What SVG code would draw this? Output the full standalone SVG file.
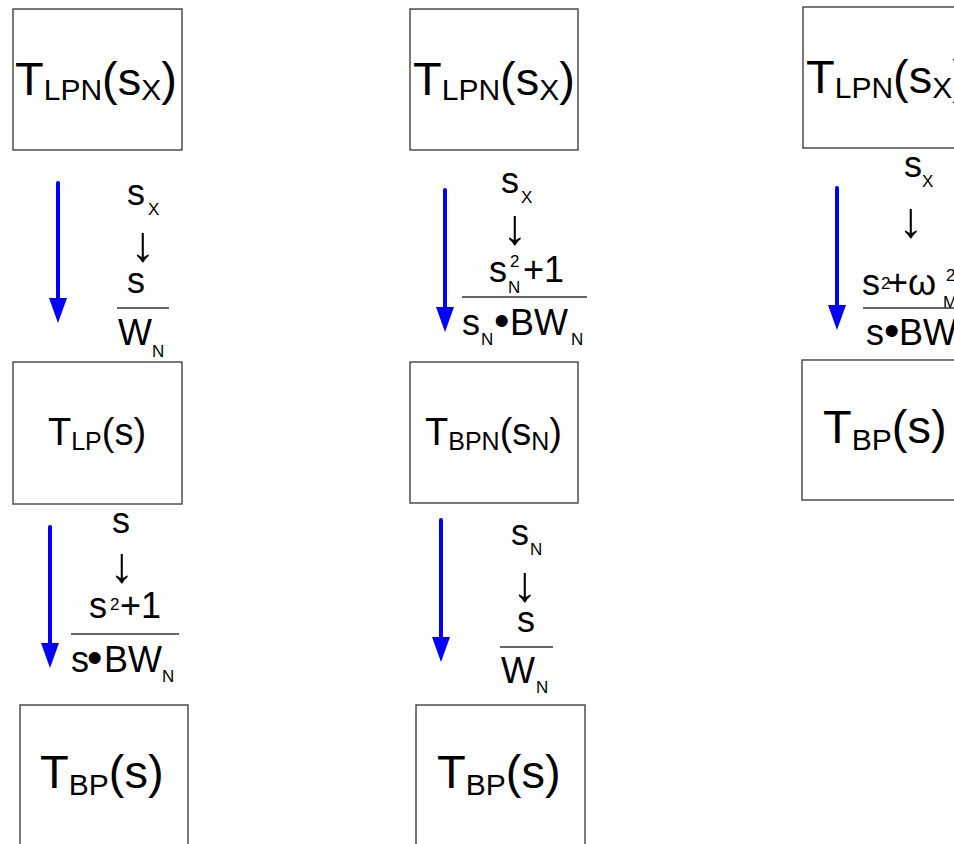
<svg xmlns="http://www.w3.org/2000/svg" width="954" height="844" viewBox="0 0 954 844">
<defs>
<style>
text{font-family:"Liberation Sans",Arial,sans-serif;fill:#000}
.box{fill:#fff;stroke:#404040;stroke-width:1.4}
.big{font-size:47px}
.bs{font-size:30px}
.mid{font-size:38px}
.ms{font-size:25px}
.lb{font-size:36px}
.ls{font-size:17px}
.bul{font-size:44px}
.arr{font-size:50px;text-anchor:middle}
.frac{stroke:#333;stroke-width:1.3}
.conn{stroke:#0000ff;stroke-width:4;stroke-linecap:round;fill:none;marker-end:url(#ah)}
</style>
<marker id="ah" markerUnits="userSpaceOnUse" viewBox="0 -9 25 18" markerWidth="25" markerHeight="18" refX="2" refY="0" orient="auto">
<path d="M0,-9 L25,0 L0,9 z" fill="#0000ff"/>
</marker>
</defs>
<rect width="954" height="844" fill="#fff"/>

<g id="col1-top"><rect class="box" x="13" y="9" width="169" height="141"/>
<text class="big" x="15" y="95">T<tspan class="bs" dy="5">LPN</tspan><tspan dy="-5">(s</tspan><tspan class="bs" dy="5">X</tspan><tspan dy="-5">)</tspan></text></g>
<g id="col1-mid"><rect class="box" x="13" y="362" width="169" height="142"/>
<text class="mid" x="48" y="445">T<tspan class="ms" dy="5">LP</tspan><tspan dy="-5">(s)</tspan></text></g>
<g id="col1-bot"><rect class="box" x="20" y="705" width="168" height="150"/>
<text class="big" x="40" y="788">T<tspan class="bs" dy="7">BP</tspan><tspan dy="-7">(s)</tspan></text></g>

<g id="col2-top"><rect class="box" x="410" y="9" width="168" height="141"/>
<text class="big" x="413" y="95">T<tspan class="bs" dy="5">LPN</tspan><tspan dy="-5">(s</tspan><tspan class="bs" dy="5">X</tspan><tspan dy="-5">)</tspan></text></g>
<g id="col2-mid"><rect class="box" x="410" y="362" width="168" height="141"/>
<text class="mid" x="425" y="445">T<tspan class="ms" dy="5">BPN</tspan><tspan dy="-5">(s</tspan><tspan class="ms" dy="5">N</tspan><tspan dy="-5">)</tspan></text></g>
<g id="col2-bot"><rect class="box" x="416" y="705" width="169" height="150"/>
<text class="big" x="437" y="788">T<tspan class="bs" dy="7">BP</tspan><tspan dy="-7">(s)</tspan></text></g>

<g id="col3-top"><rect class="box" x="803" y="7" width="200" height="141"/>
<text class="big" x="806" y="93">T<tspan class="bs" dy="5">LPN</tspan><tspan dy="-5">(s</tspan><tspan class="bs" dy="5">X</tspan><tspan dy="-5">)</tspan></text></g>
<g id="col3-mid"><rect class="box" x="802" y="360" width="200" height="140"/>
<text class="big" x="823" y="443">T<tspan class="bs" dy="7">BP</tspan><tspan dy="-7">(s)</tspan></text></g>

<g id="connectors">
<line class="conn" x1="58" y1="183" x2="58" y2="300"/>
<line class="conn" x1="50" y1="527" x2="50" y2="645"/>
<line class="conn" x1="445" y1="190" x2="445" y2="309"/>
<line class="conn" x1="441" y1="520" x2="441" y2="639"/>
<line class="conn" x1="837" y1="188" x2="837" y2="307"/>
</g>

<g id="label-col1-a">
<text><tspan class="lb" x="127" y="205">s</tspan><tspan class="ls" x="148" y="215">X</tspan></text>
<text class="arr" x="143" y="261">↓</text>
<text class="lb" x="127" y="293">s</text>
<line class="frac" x1="117" y1="308" x2="169" y2="308"/>
<text><tspan class="lb" x="118" y="345">W</tspan><tspan class="ls" x="152" y="357">N</tspan></text>
</g>
<g id="label-col1-b">
<text class="lb" x="112" y="533">s</text>
<text class="arr" x="122" y="582">↓</text>
<text><tspan class="lb" x="89" y="618">s</tspan><tspan class="ls" x="110" y="610">2</tspan><tspan class="lb" x="120" y="618">+1</tspan></text>
<line class="frac" x1="71" y1="634" x2="179" y2="634"/>
<text><tspan class="lb" x="71" y="672">s</tspan><tspan class="bul" x="87" y="673">•</tspan><tspan class="lb" x="104" y="672">BW</tspan><tspan class="ls" x="162" y="682">N</tspan></text>
</g>
<g id="label-col2-a">
<text><tspan class="lb" x="501" y="193">s</tspan><tspan class="ls" x="521" y="203">X</tspan></text>
<text class="arr" x="515" y="244">↓</text>
<text><tspan class="lb" x="489" y="282">s</tspan><tspan class="ls" x="510" y="267">2</tspan><tspan class="ls" x="508" y="293">N</tspan><tspan class="lb" x="523" y="282">+1</tspan></text>
<line class="frac" x1="462" y1="297" x2="587" y2="297"/>
<text><tspan class="lb" x="462" y="335">s</tspan><tspan class="ls" x="481" y="345">N</tspan><tspan class="bul" x="494" y="336">•</tspan><tspan class="lb" x="510" y="335">BW</tspan><tspan class="ls" x="571" y="345">N</tspan></text>
</g>
<g id="label-col2-b">
<text><tspan class="lb" x="511" y="545">s</tspan><tspan class="ls" x="530" y="555">N</tspan></text>
<text class="arr" x="525" y="601">↓</text>
<text class="lb" x="517" y="632">s</text>
<line class="frac" x1="500" y1="647" x2="553" y2="647"/>
<text><tspan class="lb" x="501" y="683">W</tspan><tspan class="ls" x="536" y="693">N</tspan></text>
</g>
<g id="label-col3">
<text><tspan class="lb" x="904" y="177">s</tspan><tspan class="ls" x="922" y="187">X</tspan></text>
<text class="arr" x="911" y="237">↓</text>
<text><tspan class="lb" x="862" y="295">s</tspan><tspan class="ls" x="881" y="289">2</tspan><tspan class="lb" x="887" y="295">+</tspan><tspan class="lb" x="908" y="295">ω</tspan><tspan class="ls" x="946" y="281">2</tspan><tspan class="ls" x="943" y="308">M</tspan></text>
<line class="frac" x1="863" y1="308" x2="960" y2="308"/>
<text><tspan class="lb" x="866" y="345">s</tspan><tspan class="bul" x="884" y="346">•</tspan><tspan class="lb" x="899" y="345">BW</tspan></text>
</g>
</svg>
